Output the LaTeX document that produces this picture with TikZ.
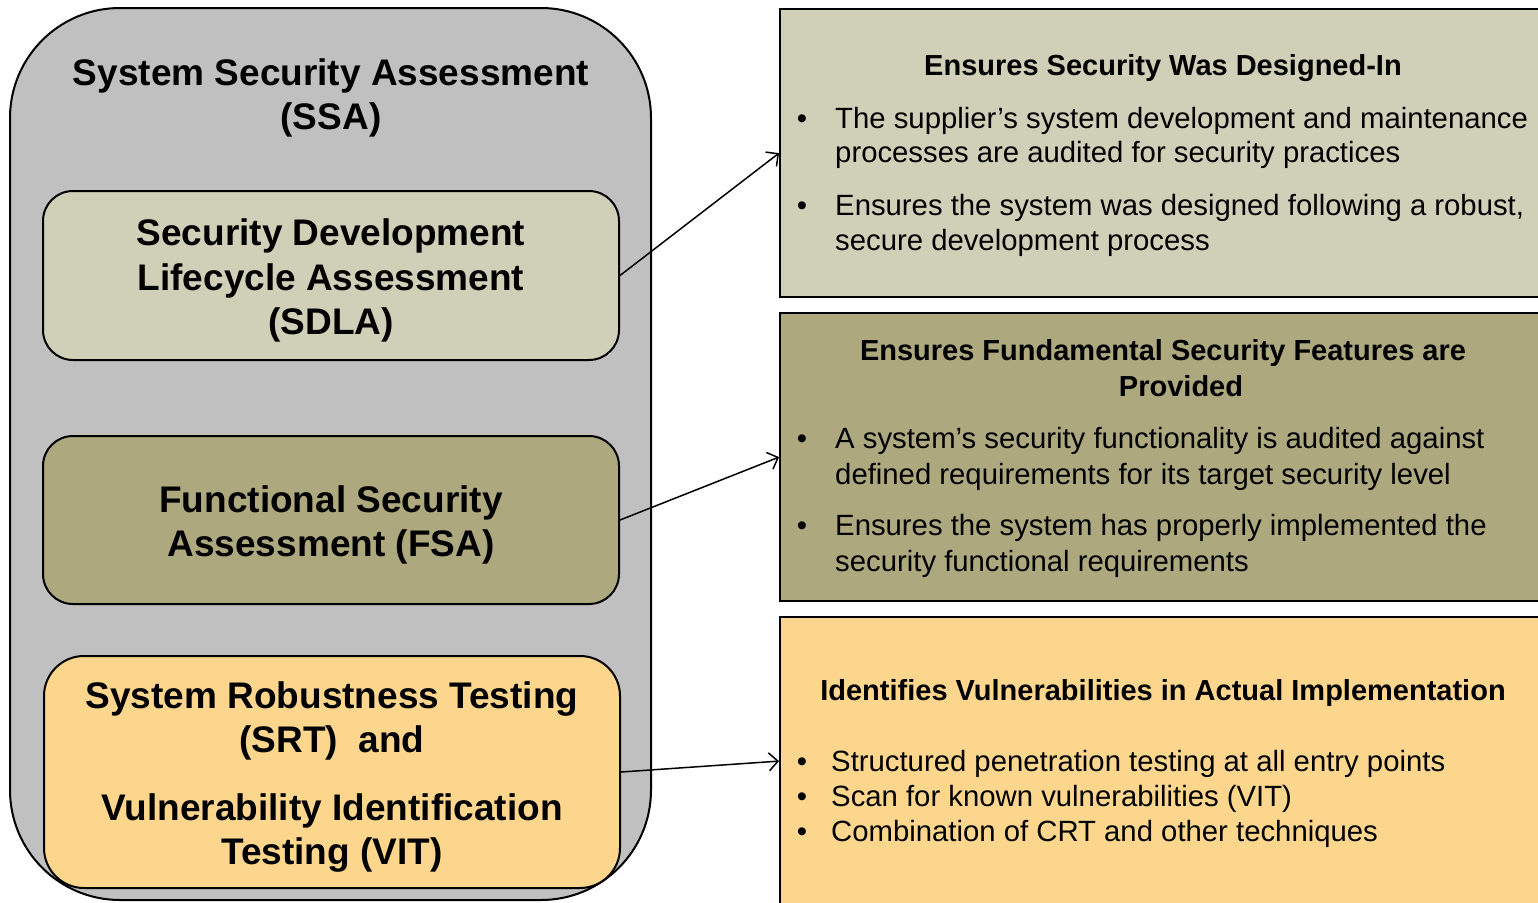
\documentclass[tikz,border=0pt]{standalone}
\usepackage{fontspec}
\setmainfont{Liberation Sans}
\usetikzlibrary{arrows.meta}

\definecolor{ssagray}{RGB}{192,192,192}
\definecolor{sdlatan}{RGB}{208,207,184}
\definecolor{fsaolive}{RGB}{173,168,126}
\definecolor{srtorange}{RGB}{253,214,141}

\newcommand\bigfont{\fontsize{37}{44.5}\selectfont\bfseries}
\newcommand\headfont{\fontsize{29}{36}\selectfont\bfseries}
\newcommand\bodyfont{\fontsize{29.3}{35}\selectfont}

\tikzset{
  block/.style={draw,line width=2pt,rounded corners=30pt,minimum width=576pt},
  blocktext/.style={align=center,font=\bigfont},
  panel/.style={draw,line width=2.2pt,minimum width=768pt,minimum height=288pt,anchor=north west},
  headline/.style={anchor=base,inner sep=0pt,font=\headfont},
  bodyline/.style={anchor=base west,inner sep=0pt,font=\bodyfont},
  bulletdot/.style={anchor=base,inner sep=0pt,font=\bodyfont},
  link/.style={-{Straight Barb[length=9pt,width=18pt]},line width=1.5pt}
}

\begin{document}
\begin{tikzpicture}[x=1pt,y=-1pt]
  \clip (0,0) rectangle (1538,902);
  %% outer assessment
  \node[draw,line width=2pt,fill=ssagray,rounded corners=110pt,minimum width=641pt,minimum height=892pt] (ssa) at (330.5,454) {};
  \node[blocktext] (ssatitle) at (331,98) {System Security Assessment\\(SSA)};
  %% inner blocks
  \node[block,fill=sdlatan,minimum height=169pt] (sdla) at (331,275.5) {};
  \node[block,fill=fsaolive,minimum height=168pt] (fsa) at (331,520) {};
  \node[block,fill=srtorange,minimum height=232pt,rounded corners=40pt] (srt) at (332,772) {};
  \node[blocktext] (sdlatext) at ([yshift=-5pt]sdla.center) {Security Development\\Lifecycle Assessment\\(SDLA)};
  \node[blocktext] (fsatext) at ([yshift=-5pt]fsa.center) {Functional Security\\Assessment (FSA)};
  \node[blocktext] (srttext) at ([yshift=-5pt]srt.center) {System Robustness Testing\\(SRT)~ and\\[23pt]Vulnerability Identification\\Testing (VIT)};
  %% panels
  \node[panel,fill=sdlatan] (design) at (779,8) {};
  \node[panel,fill=fsaolive] (feature) at (779,312) {};
  \node[panel,fill=srtorange] (vuln) at (779,616) {};
  %% panel texts
  \node[headline] (designhead) at (1163,75) {Ensures Security Was Designed-In};
  \foreach \y/\t [count=\i] in {128/{The supplier’s system development and maintenance},162/{processes are audited for security practices},215/{Ensures the system was designed following a robust,},250/{secure development process}}
    \node[bodyline] (designline\i) at (835,\y) {\t};
  \foreach \y [count=\i] in {128,215}
    \node[bulletdot] (designdot\i) at (802,\y) {\textbullet};
  \node[headline] (featurehead) at (1163,360) {Ensures Fundamental Security Features are};
  \node[headline] (featurehead2) at (1181,396) {Provided};
  \foreach \y/\t [count=\i] in {448/{A system’s security functionality is audited against},484/{defined requirements for its target security level},535/{Ensures the system has properly implemented the},571/{security functional requirements}}
    \node[bodyline] (featureline\i) at (835,\y) {\t};
  \foreach \y [count=\i] in {448,535}
    \node[bulletdot] (featuredot\i) at (802,\y) {\textbullet};
  \node[headline] (vulnhead) at (1163,700) {Identifies Vulnerabilities in Actual Implementation};
  \foreach \y/\t [count=\i] in {771/{Structured penetration testing at all entry points},806/{Scan for known vulnerabilities (VIT)},841/{Combination of CRT and other techniques}}
    \node[bodyline] (vulnline\i) at (831,\y) {\t};
  \foreach \y [count=\i] in {771,806,841}
    \node[bulletdot] (vulndot\i) at (802,\y) {\textbullet};
  %% links
  \draw[link] (sdla.east) -- (design.west);
  \draw[link] (fsa.east) -- (feature.west);
  \draw[link] (srt.east) -- (vuln.west);
\end{tikzpicture}
\end{document}
